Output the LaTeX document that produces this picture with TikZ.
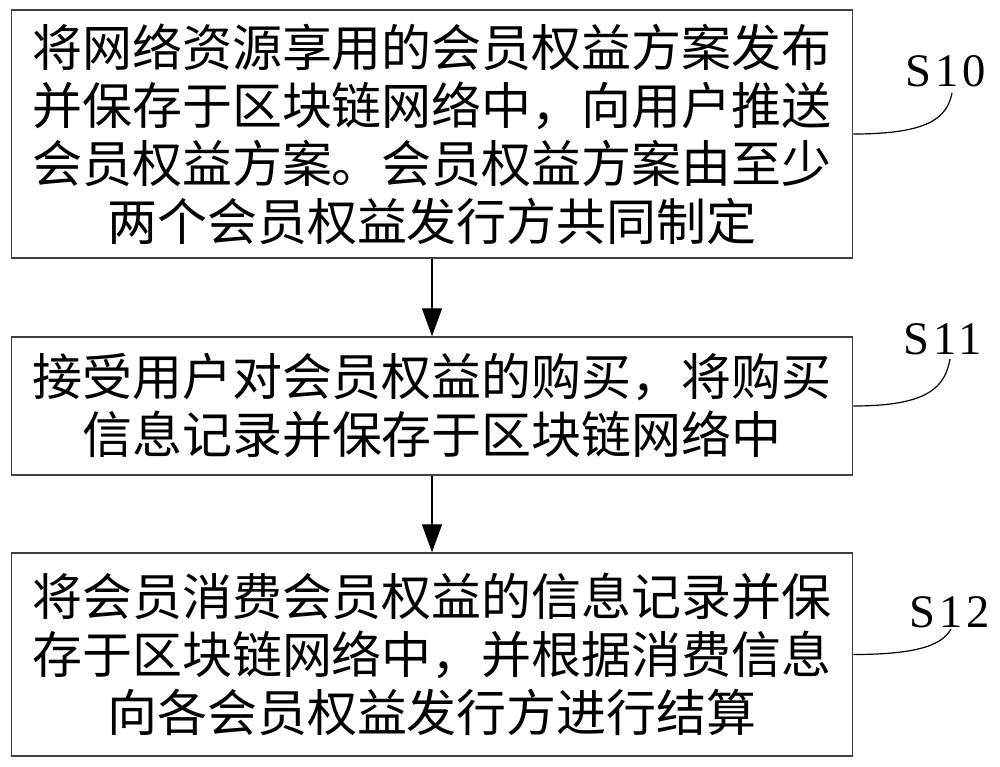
\documentclass[tikz,border=0pt]{standalone}
\usepackage{fontspec}
\newfontfamily\cjk{Noto Sans CJK SC}
\newfontfamily\lab[LetterSpace=8]{Liberation Serif}
\usetikzlibrary{arrows.meta}
\begin{document}
\begin{tikzpicture}[x=0.75pt,y=-0.75pt,
  stepbox/.style={draw=black!75,line width=1pt,inner sep=0pt,align=center,
    font=\cjk\fontsize{37.5}{43.5}\selectfont},
  flow/.style={draw=black,line width=0.8pt,-{Triangle[length=21pt,width=15pt]}},
  lead/.style={draw=black,line width=0.9pt},
  steplabel/.style={font=\lab\fontsize{35}{35}\selectfont,inner sep=0pt}]
\useasboundingbox (0,0) rectangle (1000,767);
\node[stepbox,minimum width=841.5*0.75pt,minimum height=248*0.75pt] (b1) at (432,134)
  {将网络资源享用的会员权益方案发布\\并保存于区块链网络中，向用户推送\\会员权益方案。会员权益方案由至少\\两个会员权益发行方共同制定};
\node[stepbox,minimum width=841.5*0.75pt,minimum height=138*0.75pt] (b2) at (432,406)
  {接受用户对会员权益的购买，将购买\\信息记录并保存于区块链网络中};
\node[stepbox,minimum width=841.5*0.75pt,minimum height=203*0.75pt] (b3) at (432,654.5)
  {将会员消费会员权益的信息记录并保\\存于区块链网络中，并根据消费信息\\向各会员权益发行方进行结算};
\draw[flow] (b1.south) -- (b2.north);
\draw[flow] (b2.south) -- (b3.north);
\node[steplabel] (l1) at (946,71) {S10};
\node[steplabel] (l2) at (943,339) {S11};
\node[steplabel] (l3) at (950,612) {S12};
\coordinate (e1) at (952,93);
\coordinate (e2) at (950,359);
\coordinate (e3) at (951,629);
\draw[lead] (b1.east) .. controls +(75,0) and +(-5,25) .. (e1);
\draw[lead] (b2.east) .. controls +(75,0) and +(-5,28) .. (e2);
\draw[lead] (b3.east) .. controls +(70,0) and +(-8,14) .. (e3);
\end{tikzpicture}
\end{document}
